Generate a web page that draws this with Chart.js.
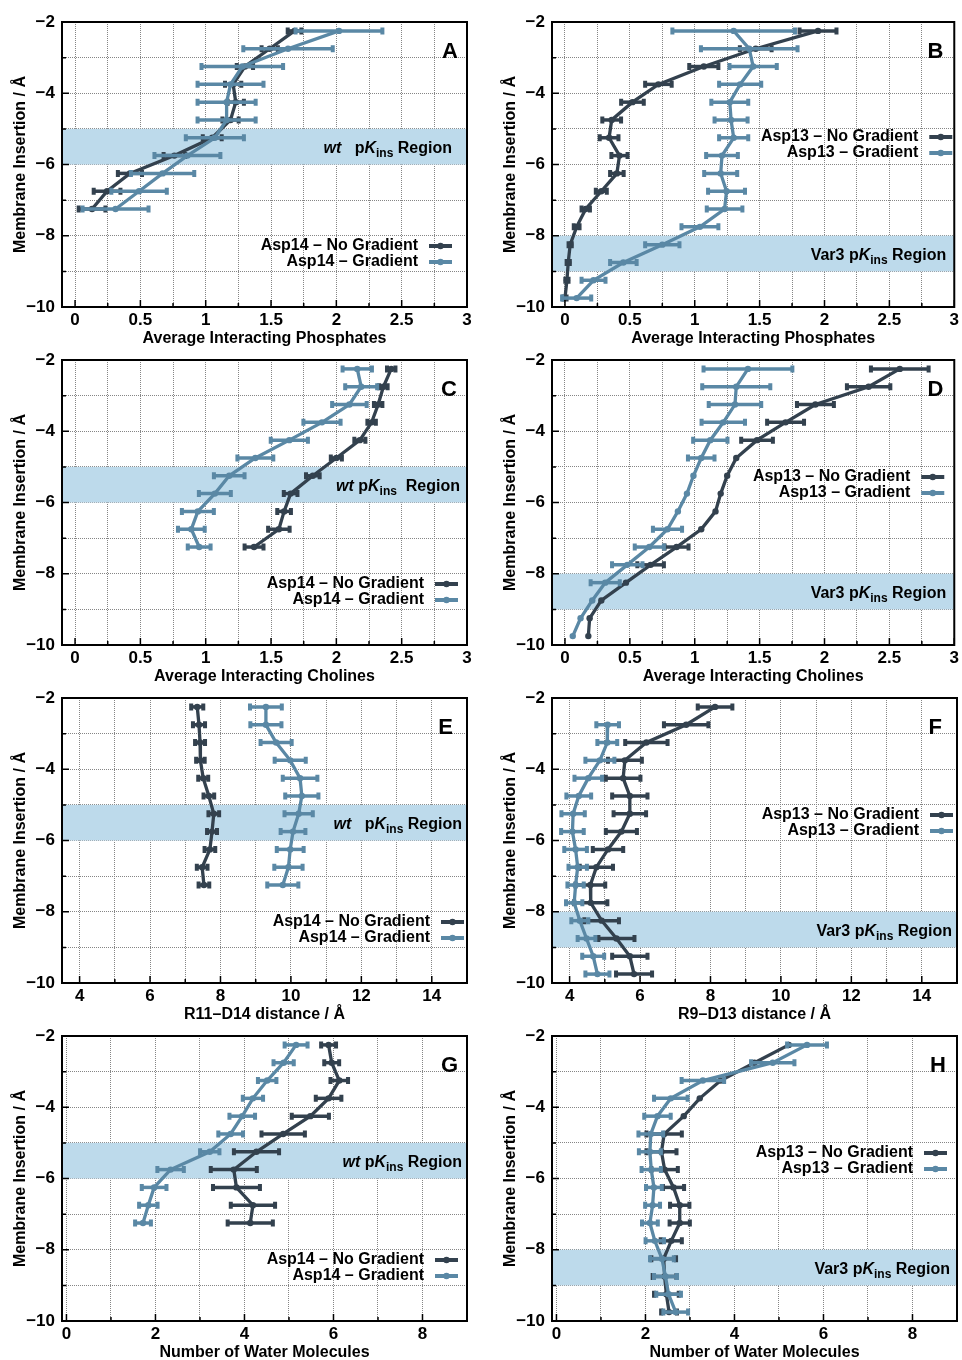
<!DOCTYPE html>
<html>
<head>
<meta charset="utf-8">
<script src="https://cdn.jsdelivr.net/npm/chart.js@4.4.1/dist/chart.umd.min.js"></script>
<style>
  body { margin: 0; background: #fff; width: 962px; height: 1360px; position: relative; overflow: hidden; }
  canvas { position: absolute; }
</style>
</head>
<body>
<canvas id="cA" width="490" height="350" style="left:0;top:0"></canvas>
<canvas id="cB" width="472" height="350" style="left:490px;top:0"></canvas>
<canvas id="cC" width="490" height="350" style="left:0;top:338px"></canvas>
<canvas id="cD" width="472" height="350" style="left:490px;top:338px"></canvas>
<canvas id="cE" width="490" height="350" style="left:0;top:676px"></canvas>
<canvas id="cF" width="472" height="350" style="left:490px;top:676px"></canvas>
<canvas id="cG" width="490" height="350" style="left:0;top:1014px"></canvas>
<canvas id="cH" width="472" height="350" style="left:490px;top:1014px"></canvas>
<script>
// membrane insertion depths of the sampled windows
const depth11 = [-2.25, -2.75, -3.25, -3.75, -4.25, -4.75, -5.25, -5.75, -6.25, -6.75, -7.25];
const depth16 = [-2.25, -2.75, -3.25, -3.75, -4.25, -4.75, -5.25, -5.75, -6.25, -6.75, -7.25, -7.75, -8.25, -8.75, -9.25, -9.75];
const depth15 = [-2.75, -3.25, -3.75, -4.25, -4.75, -5.25, -5.75, -6.25, -6.75, -7.25, -7.75, -8.25, -8.75, -9.25, -9.75];

// A - phosphates, Asp14
const aNoGradX = [1.68, 1.49, 1.30, 1.21, 1.23, 1.19, 1.05, 0.76, 0.42, 0.245, 0.13];
const aNoGradErr = [0.06, 0.07, 0.07, 0.07, 0.07, 0.07, 0.08, 0.09, 0.10, 0.11, 0.11];
const aGradX = [2.02, 1.63, 1.28, 1.19, 1.16, 1.16, 1.07, 0.86, 0.67, 0.49, 0.31];
const aGradErr = [0.34, 0.35, 0.32, 0.26, 0.23, 0.23, 0.23, 0.26, 0.25, 0.22, 0.26];

// B - phosphates, Asp13
const bNoGradX = [1.95, 1.47, 1.07, 0.72, 0.52, 0.36, 0.34, 0.42, 0.40, 0.28, 0.16, 0.09, 0.04, 0.025, 0.015, 0.0];
const bNoGradErr = [0.15, 0.13, 0.12, 0.11, 0.095, 0.08, 0.08, 0.07, 0.06, 0.05, 0.04, 0.03, 0.02, 0.02, 0.02, 0.02];
const bGradX = [1.30, 1.42, 1.45, 1.35, 1.27, 1.28, 1.30, 1.21, 1.20, 1.245, 1.23, 1.04, 0.75, 0.45, 0.22, 0.09];
const bGradErr = [0.48, 0.38, 0.19, 0.17, 0.15, 0.135, 0.12, 0.13, 0.135, 0.15, 0.145, 0.15, 0.14, 0.11, 0.10, 0.12];

// C - cholines, Asp14
const cNoGradX = [2.42, 2.36, 2.32, 2.27, 2.18, 2.00, 1.82, 1.65, 1.60, 1.56, 1.37];
const cNoGradErr = [0.04, 0.04, 0.04, 0.04, 0.05, 0.05, 0.06, 0.06, 0.06, 0.09, 0.08];
const cGradX = [2.16, 2.19, 2.10, 1.89, 1.64, 1.38, 1.18, 1.07, 0.94, 0.89, 0.95];
const cGradErr = [0.12, 0.13, 0.14, 0.15, 0.15, 0.145, 0.125, 0.13, 0.13, 0.11, 0.095];

// D - cholines, Asp13
const dNoGradX = [2.58, 2.34, 1.93, 1.70, 1.48, 1.32, 1.25, 1.20, 1.16, 1.05, 0.86, 0.66, 0.47, 0.28, 0.19, 0.18];
const dNoGradErr = [0.23, 0.175, 0.15, 0.15, 0.13, 0, 0, 0, 0, 0, 0.10, 0.11, 0, 0, 0, 0];
const dGradX = [1.41, 1.32, 1.31, 1.22, 1.12, 1.05, 0.99, 0.94, 0.87, 0.79, 0.65, 0.48, 0.31, 0.21, 0.12, 0.06];
const dGradErr = [0.35, 0.27, 0.21, 0.175, 0.14, 0.11, 0, 0, 0, 0.12, 0.12, 0.125, 0.12, 0, 0, 0];

// E - R11-D14 distance
const eNoGradX = [7.34, 7.39, 7.42, 7.43, 7.51, 7.67, 7.81, 7.76, 7.70, 7.48, 7.53];
const eNoGradErr = [0.20, 0.20, 0.17, 0.15, 0.17, 0.18, 0.18, 0.17, 0.18, 0.18, 0.18];
const eGradX = [9.29, 9.29, 9.58, 9.98, 10.26, 10.31, 10.22, 10.06, 9.98, 9.93, 9.77];
const eGradErr = [0.48, 0.47, 0.47, 0.47, 0.52, 0.50, 0.43, 0.38, 0.41, 0.43, 0.47];

// F - R9-D13 distance
const fNoGradX = [8.13, 7.31, 6.18, 5.57, 5.52, 5.71, 5.71, 5.47, 5.09, 4.76, 4.59, 4.60, 4.91, 5.33, 5.71, 5.83];
const fNoGradErr = [0.52, 0.66, 0.63, 0.51, 0.52, 0.53, 0.49, 0.47, 0.46, 0.50, 0.45, 0.50, 0.52, 0.54, 0.53, 0.54];
const fGradX = [5.08, 5.07, 4.86, 4.53, 4.26, 4.10, 4.08, 4.17, 4.23, 4.17, 4.13, 4.29, 4.48, 4.67, 4.79];
const fGradErr = [0.35, 0.31, 0.44, 0.42, 0.38, 0.36, 0.35, 0.35, 0.29, 0.26, 0.26, 0.27, 0.28, 0.34, 0.37];

// G - water, Asp14
const gNoGradX = [5.89, 5.96, 6.13, 5.89, 5.48, 4.87, 4.27, 3.76, 3.82, 4.19, 4.13];
const gNoGradErr = [0.19, 0.19, 0.22, 0.31, 0.44, 0.51, 0.53, 0.54, 0.55, 0.52, 0.53];
const gGradX = [5.16, 4.88, 4.51, 4.19, 3.95, 3.69, 3.22, 2.34, 1.97, 1.84, 1.72];
const gGradErr = [0.28, 0.25, 0.23, 0.25, 0.31, 0.30, 0.24, 0.32, 0.30, 0.23, 0.20];

// H - water, Asp13
const hNoGradX = [5.22, 4.45, 3.69, 3.22, 2.86, 2.42, 2.36, 2.43, 2.63, 2.77, 2.77, 2.58, 2.41, 2.43, 2.47, 2.53];
const hNoGradErr = [0, 0, 0, 0, 0, 0.42, 0.36, 0.32, 0.26, 0.24, 0.25, 0.26, 0.30, 0.29, 0.30, 0.20];
const hGradX = [5.63, 4.86, 3.29, 2.57, 2.27, 2.12, 2.10, 2.13, 2.19, 2.16, 2.10, 2.21, 2.37, 2.45, 2.52, 2.68];
const hGradErr = [0.47, 0.51, 0.50, 0.40, 0.32, 0.30, 0.27, 0.24, 0.20, 0.19, 0.20, 0.23, 0.29, 0.28, 0.30, 0.30];

// axis ticks (grid lines / labelled values)
const gridFrac = [0, 0.25, 0.5, 0.75, 1, 1.25, 1.5, 1.75, 2, 2.25, 2.5, 2.75, 3];
const labelFrac = [0, 0.5, 1, 1.5, 2, 2.5, 3];
const gridDist = [4, 5, 6, 7, 8, 9, 10, 11, 12, 13, 14];
const labelDist = [4, 6, 8, 10, 12, 14];
const gridWater = [0, 1, 2, 3, 4, 5, 6, 7, 8];
const labelWater = [0, 2, 4, 6, 8];
const gridDepth = [-2, -3, -4, -5, -6, -7, -8, -9, -10];
const labelDepth = [-2, -4, -6, -8, -10];

const DARK = '#33414e';
const LIGHT = '#5a88a5';
const BAND = '#bddaeb';
const FONT = 'Liberation Sans, Arial, sans-serif';

const wtRegion3 = [['wt', 'i'], ['   p', 'n'], ['K', 'i'], ['ins', 's'], [' Region', 'n']];
const wtRegionC = [['wt', 'i'], [' p', 'n'], ['K', 'i'], ['ins', 's'], ['  Region', 'n']];
const wtRegionG = [['wt', 'i'], [' p', 'n'], ['K', 'i'], ['ins', 's'], [' Region', 'n']];
const varRegion = [['Var3 p', 'n'], ['K', 'i'], ['ins', 's'], [' Region', 'n']];

const panels = [
  { id: 'cA', letter: 'A', xTitle: 'Average Interacting Phosphates', xMin: -0.1, xMax: 3, grid: gridFrac, labels: labelFrac,
    names: ['Asp14 \u2013 No Gradient', 'Asp14 \u2013 Gradient'], y: [depth11, depth11],
    x: [aNoGradX, aGradX], err: [aNoGradErr, aGradErr], band: [-5, -6], region: wtRegion3, regionRight: 15,
    legendY: [224, 240], legendRight: 49, letterRight: 9, padRight: 23 },
  { id: 'cB', letter: 'B', xTitle: 'Average Interacting Phosphates', xMin: -0.1, xMax: 3, grid: gridFrac, labels: labelFrac,
    names: ['Asp13 \u2013 No Gradient', 'Asp13 \u2013 Gradient'], y: [depth16, depth16],
    x: [bNoGradX, bGradX], err: [bNoGradErr, bGradErr], band: [-8, -9], region: varRegion, regionRight: 8,
    legendY: [115, 131], legendRight: 36, letterRight: 11, padRight: 5 },
  { id: 'cC', letter: 'C', xTitle: 'Average Interacting Cholines', xMin: -0.1, xMax: 3, grid: gridFrac, labels: labelFrac,
    names: ['Asp14 \u2013 No Gradient', 'Asp14 \u2013 Gradient'], y: [depth11, depth11],
    x: [cNoGradX, cGradX], err: [cNoGradErr, cGradErr], band: [-5, -6], region: wtRegionC, regionRight: 7,
    legendY: [224, 240], legendRight: 43, letterRight: 10, padRight: 23 },
  { id: 'cD', letter: 'D', xTitle: 'Average Interacting Cholines', xMin: -0.1, xMax: 3, grid: gridFrac, labels: labelFrac,
    names: ['Asp13 \u2013 No Gradient', 'Asp13 \u2013 Gradient'], y: [depth16, depth16],
    x: [dNoGradX, dGradX], err: [dNoGradErr, dGradErr], band: [-8, -9], region: varRegion, regionRight: 8,
    legendY: [117, 133], legendRight: 44, letterRight: 11, padRight: 5 },
  { id: 'cE', letter: 'E', xTitle: 'R11\u2013D14 distance / \u00c5', xMin: 3.5, xMax: 15, grid: gridDist, labels: labelDist,
    names: ['Asp14 \u2013 No Gradient', 'Asp14 \u2013 Gradient'], y: [depth11, depth11],
    x: [eNoGradX, eGradX], err: [eNoGradErr, eGradErr], band: [-5, -6], region: wtRegion3, regionRight: 5,
    legendY: [224, 240], legendRight: 37, letterRight: 14, padRight: 23 },
  { id: 'cF', letter: 'F', xTitle: 'R9\u2013D13 distance / \u00c5', xMin: 3.5, xMax: 15, grid: gridDist, labels: labelDist,
    names: ['Asp13 \u2013 No Gradient', 'Asp13 \u2013 Gradient'], y: [depth16, depth15],
    x: [fNoGradX, fGradX], err: [fNoGradErr, fGradErr], band: [-8, -9], region: varRegion, regionRight: 5,
    legendY: [117, 133], legendRight: 38, letterRight: 15, padRight: 5 },
  { id: 'cG', letter: 'G', xTitle: 'Number of Water Molecules', xMin: -0.1, xMax: 9, grid: gridWater, labels: labelWater,
    names: ['Asp14 \u2013 No Gradient', 'Asp14 \u2013 Gradient'], y: [depth11, depth11],
    x: [gNoGradX, gGradX], err: [gNoGradErr, gGradErr], band: [-5, -6], region: wtRegionG, regionRight: 5,
    legendY: [224, 240], legendRight: 43, letterRight: 9, padRight: 23 },
  { id: 'cH', letter: 'H', xTitle: 'Number of Water Molecules', xMin: -0.1, xMax: 9, grid: gridWater, labels: labelWater,
    names: ['Asp13 \u2013 No Gradient', 'Asp13 \u2013 Gradient'], y: [depth16, depth16],
    x: [hNoGradX, hGradX], err: [hNoGradErr, hGradErr], band: [-8, -9], region: varRegion, regionRight: 7,
    legendY: [117, 133], legendRight: 44, letterRight: 11, padRight: 5 }
];

function fmt(v) {
  return v < 0 ? '\u2212' + Math.abs(v) : String(v);
}

// shaded pK region, error bars, frame, inner ticks, legend and panel letter
const decorations = {
  id: 'decorations',
  beforeDatasetsDraw(chart) {
    const p = chart.options.plugins.decorations.panel;
    const {ctx, chartArea: a, scales: {x, y}} = chart;
    const y1 = y.getPixelForValue(p.band[0]);
    const y2 = y.getPixelForValue(p.band[1]);
    ctx.save();
    ctx.fillStyle = BAND;
    ctx.fillRect(a.left, y1, a.right - a.left, y2 - y1);
    // region label, right aligned
    const fonts = {
      n: 'bold 16px ' + FONT,
      i: 'italic bold 16px ' + FONT,
      s: 'bold 12px ' + FONT
    };
    let total = 0;
    p.region.forEach(([t, s]) => { ctx.font = fonts[s]; total += ctx.measureText(t).width; });
    let cx = a.right - p.regionRight - total;
    const base = (y1 + y2) / 2 + 6;
    ctx.fillStyle = '#000';
    ctx.textBaseline = 'alphabetic';
    ctx.textAlign = 'left';
    p.region.forEach(([t, s]) => {
      ctx.font = fonts[s];
      ctx.fillText(t, cx, s === 's' ? base + 4 : base);
      cx += ctx.measureText(t).width;
    });
    ctx.restore();
  },
  beforeDatasetDraw(chart, args) {
    const ds = chart.data.datasets[args.index];
    const {ctx, scales: {x, y}} = chart;
    ctx.save();
    ctx.strokeStyle = ds.borderColor;
    ds.data.forEach((pt, i) => {
      const e = ds.xErr[i];
      if (!e) return;
      const py = y.getPixelForValue(pt.y);
      const x1 = x.getPixelForValue(pt.x - e);
      const x2 = x.getPixelForValue(pt.x + e);
      ctx.lineWidth = 3.5;
      ctx.beginPath();
      ctx.moveTo(x1, py); ctx.lineTo(x2, py);
      ctx.stroke();
      ctx.lineWidth = 4;
      ctx.beginPath();
      ctx.moveTo(x1 + 1, py - 3.5); ctx.lineTo(x1 + 1, py + 3.5);
      ctx.moveTo(x2 - 1, py - 3.5); ctx.lineTo(x2 - 1, py + 3.5);
      ctx.stroke();
    });
    ctx.restore();
  },
  afterDraw(chart) {
    const p = chart.options.plugins.decorations.panel;
    const {ctx, chartArea: a, scales: {x, y}} = chart;
    ctx.save();
    // inner tick marks
    ctx.strokeStyle = '#000';
    ctx.lineWidth = 1.5;
    ctx.beginPath();
    p.grid.forEach(v => {
      const px = x.getPixelForValue(v);
      const len = p.labels.includes(v) ? 7 : 4;
      ctx.moveTo(px, a.bottom); ctx.lineTo(px, a.bottom - len);
    });
    gridDepth.forEach(v => {
      const py = y.getPixelForValue(v);
      const len = labelDepth.includes(v) ? 7 : 4;
      ctx.moveTo(a.left, py); ctx.lineTo(a.left + len, py);
    });
    ctx.stroke();
    // frame
    ctx.lineWidth = 2;
    ctx.strokeRect(a.left, a.top, a.right - a.left, a.bottom - a.top);
    // legend
    ctx.font = 'bold 16px ' + FONT;
    ctx.textAlign = 'right';
    ctx.textBaseline = 'middle';
    chart.data.datasets.forEach((ds, i) => {
      const ly = a.top + p.legendY[i];
      const tr = a.right - p.legendRight;
      ctx.fillStyle = '#000';
      ctx.fillText(ds.label, tr, ly);
      ctx.strokeStyle = ds.borderColor;
      ctx.lineWidth = 4;
      ctx.beginPath();
      ctx.moveTo(tr + 11, ly); ctx.lineTo(tr + 34, ly);
      ctx.stroke();
      ctx.fillStyle = ds.borderColor;
      ctx.beginPath();
      ctx.arc(tr + 22.5, ly, 3.2, 0, Math.PI * 2);
      ctx.fill();
    });
    // panel letter
    ctx.fillStyle = '#000';
    ctx.font = 'bold 22px ' + FONT;
    ctx.textAlign = 'right';
    ctx.textBaseline = 'alphabetic';
    ctx.fillText(p.letter, a.right - p.letterRight, a.top + 36);
    ctx.restore();
  }
};

Chart.defaults.font.family = FONT;
Chart.defaults.color = '#000';

panels.forEach(p => {
  const colors = [DARK, LIGHT];
  const datasets = p.names.map((name, k) => ({
    label: name,
    data: p.x[k].map((v, i) => ({x: v, y: p.y[k][i]})),
    xErr: p.err[k],
    showLine: true,
    borderColor: colors[k],
    backgroundColor: colors[k],
    borderWidth: 3.3,
    pointRadius: 3.2,
    pointBorderWidth: 0,
    tension: 0,
    order: 2 - k
  }));

  new Chart(document.getElementById(p.id), {
    type: 'scatter',
    data: {datasets: datasets},
    options: {
      responsive: false,
      animation: false,
      events: [],
      layout: {padding: {left: 0, top: 22, right: p.padRight, bottom: 0}},
      plugins: {
        legend: {display: false},
        tooltip: {enabled: false},
        decorations: {panel: p}
      },
      scales: {
        x: {
          type: 'linear',
          min: p.xMin,
          max: p.xMax,
          afterBuildTicks: s => { s.ticks = p.grid.map(v => ({value: v})); },
          afterFit: s => { s.height = 43; },
          ticks: {
            autoSkip: false,
            maxRotation: 0,
            padding: 3,
            font: {size: 17, weight: 'bold'},
            callback: v => p.labels.includes(v) ? fmt(v) : ''
          },
          grid: {color: '#858585', lineWidth: 1, drawTicks: false},
          border: {display: false, dash: [1, 1]},
          title: {
            display: true,
            text: p.xTitle,
            font: {size: 16, weight: 'bold'},
            padding: {top: 0, bottom: 2}
          }
        },
        y: {
          type: 'linear',
          min: -10,
          max: -2,
          afterBuildTicks: s => { s.ticks = gridDepth.map(v => ({value: v})); },
          afterFit: s => { s.width = 62; },
          ticks: {
            autoSkip: false,
            padding: 7,
            font: {size: 17, weight: 'bold'},
            callback: v => labelDepth.includes(v) ? fmt(v) : ''
          },
          grid: {color: '#858585', lineWidth: 1, drawTicks: false},
          border: {display: false, dash: [1, 1]},
          title: {
            display: true,
            text: 'Membrane Insertion / \u00c5',
            font: {size: 16, weight: 'bold'},
            padding: {top: 11, bottom: 0}
          }
        }
      }
    },
    plugins: [decorations]
  });
});
</script>
</body>
</html>
